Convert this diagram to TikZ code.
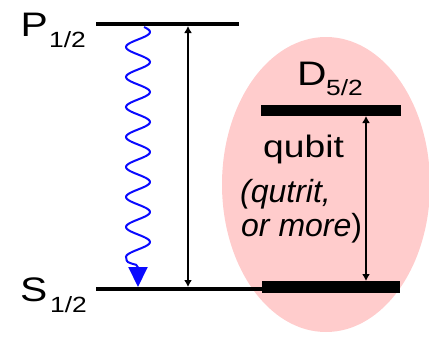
\documentclass[tikz,border=0pt]{standalone}
\usepackage{fontspec}
\setmainfont{Liberation Sans}
\newfontfamily\widesans[FakeStretch=1.2]{Liberation Sans}
\usetikzlibrary{arrows.meta}
\definecolor{pinkfill}{RGB}{255,204,204}
\definecolor{wavecol}{RGB}{10,10,255}
\tikzset{
  lbl/.style={inner sep=0pt, anchor=base west, font=\widesans\fontsize{34}{34}\selectfont},
  sublbl/.style={inner sep=0pt, anchor=base west, font=\widesans\fontsize{22}{22}\selectfont},
  qtxt/.style={inner sep=0pt, anchor=base west, font=\fontsize{32}{32}\selectfont},
  qwide/.style={inner sep=0pt, anchor=base west, font=\widesans\fontsize{31}{31}\selectfont},
  thinlevel/.style={line width=4pt},
  thicklevel/.style={line width=11.5pt},
  trans/.style={line width=1.6pt, {Latex[length=7pt,width=8pt]}-{Latex[length=7pt,width=8pt]}},
  wave/.style={line width=2pt, wavecol, -{Triangle[length=20pt,width=19pt]}}
}
\begin{document}
\begin{tikzpicture}[x=1pt,y=-1pt]
\useasboundingbox (0,0) rectangle (429,338);
\begin{scope}
\clip (0,0) rectangle (429,338);
\fill[pinkfill] (326,184.5) ellipse [x radius=104, y radius=147.5];
\end{scope}
% levels
\coordinate (PL) at (96,24);
\coordinate (PR) at (239,24);
\coordinate (SL) at (96,289);
\coordinate (SM) at (262,289);
\coordinate (SR) at (400,287);
\coordinate (DL) at (261,110.5);
\coordinate (DR) at (401,110.5);
\draw[thinlevel] (PL) -- (PR);
\draw[thinlevel] (SL) -- (SM);
\draw[thicklevel] (SM |- SR) -- (SR);
\draw[thicklevel] (DL) -- (DR);
% transitions
\coordinate (A1) at (188,26);
\coordinate (A2) at (188,287);
\draw[trans] (A1) -- (A2);
\coordinate (B1) at (366,116);
\coordinate (B2) at (366,281);
\draw[trans] (B1) -- (B2);
% wave
\coordinate (WE) at (138,287);
\draw[wave] plot[domain=27:258, samples=200, variable=\t] ({138+12*cos(12*(\t-32))},\t)
  .. controls (126,266) and (138,262) .. (WE);
% labels
\node[lbl] (P) at (20.5,36) {P};
\node[sublbl] (Ps) at (49,47) {1/2};
\node[lbl] (S) at (20,301) {S};
\node[sublbl] (Ss) at (50,312) {1/2};
\node[lbl] (D) at (297,85) {D};
\node[sublbl] (Ds) at (326,95) {5/2};
\node[qwide] (q1) at (263,157) {qubit};
\node[qtxt] (q2) at (240,202) {\textit{(qutrit,}};
\node[qtxt] (q3) at (241,236) {\textit{or more})};
\end{tikzpicture}
\end{document}
